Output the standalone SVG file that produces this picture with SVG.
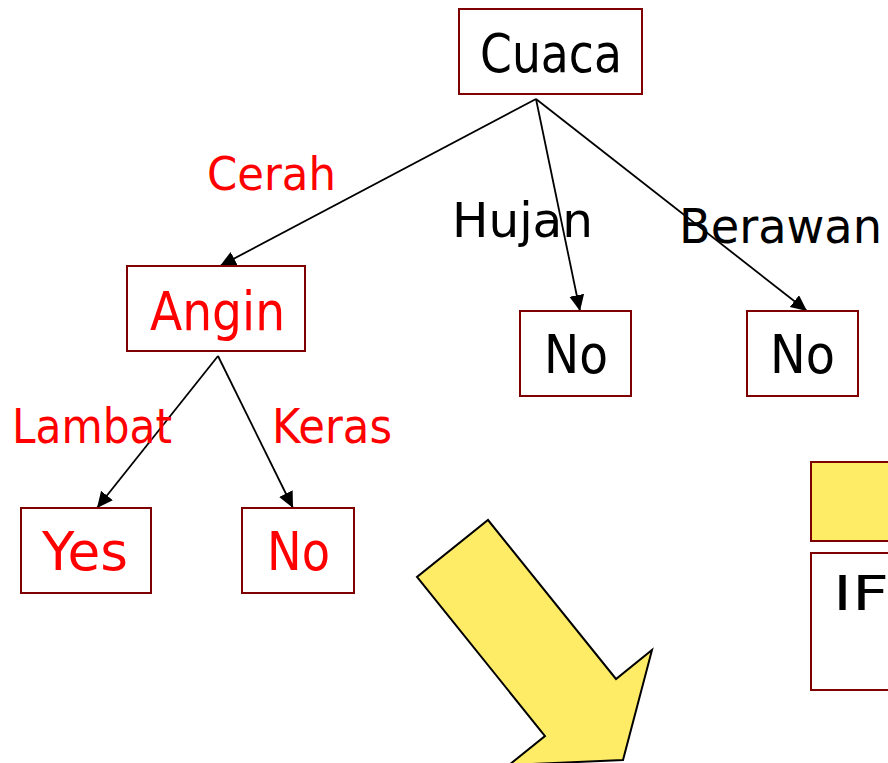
<svg xmlns="http://www.w3.org/2000/svg" width="888" height="763" viewBox="0 0 888 763">
<style>
.box{fill:#ffffff;stroke:#7f0000;stroke-width:2}
.t{font-family:"DejaVu Sans","Liberation Sans",sans-serif}
.red{fill:#ff0000}
.blk{fill:#000000}
.edge{stroke:#000;stroke-width:1.8;fill:none;marker-end:url(#ah)}
</style>
<defs>
<marker id="ah" markerUnits="userSpaceOnUse" markerWidth="18" markerHeight="16" refX="16" refY="7.5" orient="auto">
<path d="M0,0 L16,7.5 L0,15 Z" fill="#000"/>
</marker>
</defs>
<rect width="888" height="763" fill="#fff"/>
<g id="connectors">
<line class="edge" x1="536" y1="99" x2="220" y2="266"/>
<line class="edge" x1="536" y1="99" x2="580" y2="311"/>
<line class="edge" x1="536" y1="99" x2="807" y2="311"/>
<line class="edge" x1="218" y1="356" x2="97" y2="508"/>
<line class="edge" x1="218" y1="356" x2="293" y2="508"/>
</g>
<g id="labels">
<text class="t red" x="207" y="190" font-size="47" textLength="129" lengthAdjust="spacingAndGlyphs">Cerah</text>
<text class="t blk" x="452" y="237" font-size="48" textLength="141" lengthAdjust="spacingAndGlyphs">Hujan</text>
<text class="t blk" x="679" y="243" font-size="48" textLength="203" lengthAdjust="spacingAndGlyphs">Berawan</text>
<text class="t red" x="12" y="443" font-size="48" textLength="160" lengthAdjust="spacingAndGlyphs">Lambat</text>
<text class="t red" x="272" y="443" font-size="48" textLength="120" lengthAdjust="spacingAndGlyphs">Keras</text>
</g>
<g id="cuaca">
<rect class="box" x="459" y="9" width="183" height="85"/>
<text class="t blk" x="480" y="72" font-size="54" textLength="142" lengthAdjust="spacingAndGlyphs">Cuaca</text>
</g>
<g id="angin">
<rect class="box" x="127" y="266" width="178" height="85"/>
<text class="t red" x="150" y="330" font-size="54" textLength="135" lengthAdjust="spacingAndGlyphs">Angin</text>
</g>
<g id="no-hujan">
<rect class="box" x="520" y="311" width="111" height="85"/>
<text class="t blk" x="544" y="373" font-size="54" textLength="64" lengthAdjust="spacingAndGlyphs">No</text>
</g>
<g id="no-berawan">
<rect class="box" x="747" y="311" width="111" height="85"/>
<text class="t blk" x="770" y="373" font-size="54" textLength="65" lengthAdjust="spacingAndGlyphs">No</text>
</g>
<g id="yes">
<rect class="box" x="21" y="508" width="130" height="85"/>
<text class="t red" x="42" y="570" font-size="54" textLength="86" lengthAdjust="spacingAndGlyphs">Yes</text>
</g>
<g id="no-keras">
<rect class="box" x="242" y="508" width="112" height="85"/>
<text class="t red" x="267" y="570" font-size="54" textLength="63" lengthAdjust="spacingAndGlyphs">No</text>
</g>
<g id="rule-header">
<rect x="811" y="462" width="90" height="79" fill="#ffec66" stroke="#7f0000" stroke-width="2"/>
</g>
<g id="rule-body">
<rect class="box" x="811" y="553" width="90" height="137"/>
<text class="t blk" x="833" y="610" font-size="48" textLength="56" lengthAdjust="spacingAndGlyphs">IF</text>
</g>
<g id="big-arrow">
<polygon points="488,520 616,679 652,650 623,760 509,765 545,736 417,577" fill="#ffec66" stroke="#000" stroke-width="2" stroke-linejoin="miter"/>
</g>
</svg>
